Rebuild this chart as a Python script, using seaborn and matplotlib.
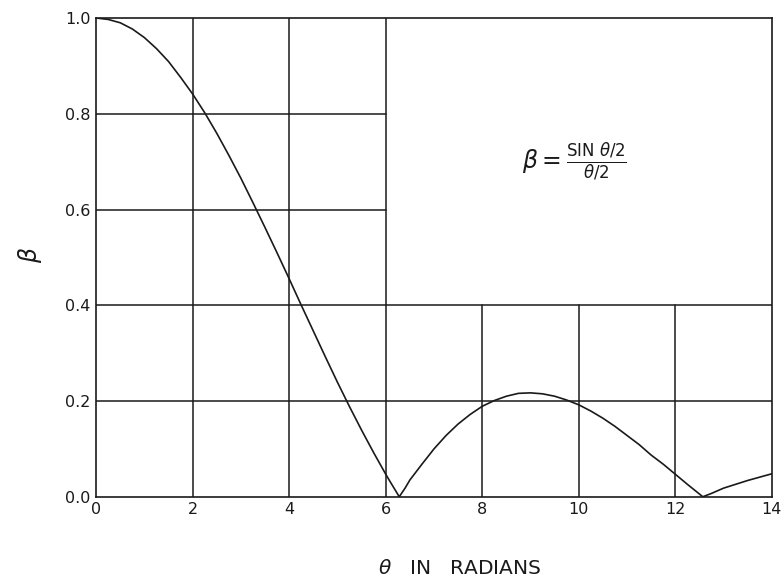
import matplotlib
matplotlib.use("Agg")
import matplotlib.pyplot as plt
import seaborn as sns
import pandas as pd

# values
theta = [0.0, 0.25, 0.5, 0.75, 1.0, 1.25, 1.5, 1.75, 2.0, 2.25, 2.5, 2.75, 3.0,
         3.25, 3.5, 3.75, 4.0, 4.25, 4.5, 4.75, 5.0, 5.25, 5.5, 5.75, 6.0, 6.1,
         6.28, 6.4, 6.5, 6.75, 7.0, 7.25, 7.5, 7.75, 8.0, 8.25, 8.5, 8.75, 9.0,
         9.25, 9.5, 9.75, 10.0, 10.25, 10.5, 10.75, 11.0, 11.25, 11.5, 11.75,
         12.0, 12.25, 12.57, 12.75, 13.0, 13.5, 14.0]
beta = [1.0, 0.997, 0.99, 0.977, 0.959, 0.936, 0.909, 0.876, 0.841, 0.802, 0.759,
        0.713, 0.665, 0.614, 0.562, 0.509, 0.455, 0.400, 0.346, 0.292, 0.239,
        0.188, 0.139, 0.092, 0.047, 0.030, 0.0, 0.018, 0.035, 0.068, 0.100,
        0.128, 0.152, 0.172, 0.189, 0.201, 0.210, 0.216, 0.217, 0.215, 0.210,
        0.202, 0.192, 0.179, 0.164, 0.147, 0.128, 0.109, 0.087, 0.068, 0.047,
        0.026, 0.0, 0.007, 0.018, 0.034, 0.048]
x_ticks = [0, 2, 4, 6, 8, 10, 12, 14]
x_tick_labels = ["0", "2", "4", "6", "8", "10", "12", "14"]
y_ticks = [0.0, 0.2, 0.4, 0.6, 0.8, 1.0]
y_tick_labels = ["0.0", "0.2", "0.4", "0.6", "0.8", "1.0"]

df = pd.DataFrame({"theta": theta, "beta": beta})

sns.set_style("white")
plt.rcParams['font.family'] = ['DejaVu Sans']

fig = plt.figure(figsize=(7.82, 5.81), dpi=100)
ax = fig.add_axes([0.123, 0.145, 0.864, 0.824])

lc = "#1a1a1a"
for xv in [2, 4, 6]:
    ax.axvline(xv, 0, 1, color=lc, lw=1.1, zorder=1)
for xv in [8, 10, 12]:
    ax.axvline(xv, 0, 0.4, color=lc, lw=1.1, zorder=1)
for yv in [0.2, 0.4]:
    ax.axhline(yv, 0, 1, color=lc, lw=1.1, zorder=1)
for yv in [0.6, 0.8]:
    ax.axhline(yv, 0, 6 / 14, color=lc, lw=1.1, zorder=1)

sns.lineplot(data=df, x="theta", y="beta", ax=ax, color=lc, lw=1.2, zorder=3)

ax.set_xlim(0, 14)
ax.set_ylim(0, 1.0)
ax.set_xticks(x_ticks)
ax.set_xticklabels(x_tick_labels)
ax.set_yticks(y_ticks)
ax.set_yticklabels(y_tick_labels)
ax.tick_params(axis="both", length=0, labelsize=11.5, colors=lc, pad=4)
ax.set_xlabel("")
ax.set_ylabel("")

for s in ax.spines.values():
    s.set_color(lc)
    s.set_linewidth(1.2)

fig.text(460 / 782, 1 - 568 / 581, r"$\theta$   IN   RADIANS", fontsize=14.5,
         color=lc, ha="center", va="center")
fig.text(30 / 782, 1 - 255 / 581, r"$\beta$", fontsize=17, color=lc,
         ha="center", va="center", rotation=90)

ax.text(9.9, 0.70, r"$\beta = \frac{\mathrm{SIN}\ \theta/2}{\theta/2}$",
        fontsize=17, color=lc, ha="center", va="center")

fig.savefig("out.png", dpi=100)
